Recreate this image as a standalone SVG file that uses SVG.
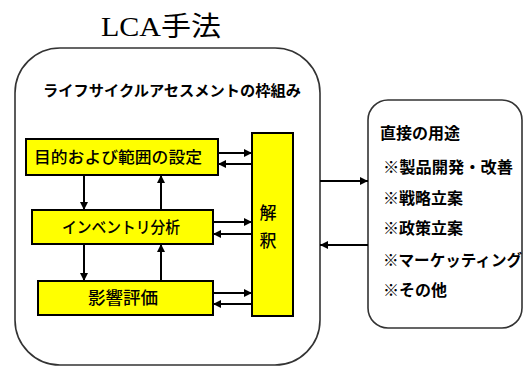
<svg xmlns="http://www.w3.org/2000/svg" width="528" height="367" viewBox="0 0 528 367">
<style>
.frame{fill:#fff;stroke:#333;stroke-width:1.6}
.box{fill:#ffff00;stroke:#000;stroke-width:2}
.ln{stroke:#000;stroke-width:2;fill:none}
.t{font-family:"Noto Sans CJK JP","Liberation Sans",sans-serif;font-weight:bold;fill:#000}
.n{font-family:"Noto Sans CJK JP","Liberation Sans",sans-serif;font-weight:500;fill:#000}
.ttl{font-family:"Liberation Serif","Noto Sans CJK JP",serif;font-size:27px;fill:#000}
</style>
<defs>
<marker id="ah" viewBox="0 0 10 10" refX="10" refY="5" markerWidth="4" markerHeight="4" orient="auto" markerUnits="strokeWidth">
<path d="M0,0 L10,5 L0,10 Z" fill="#000"/>
</marker>
</defs>
<rect width="528" height="367" fill="#fff"/>
<text class="ttl" x="161" y="36" text-anchor="middle" textLength="120" lengthAdjust="spacingAndGlyphs">LCA手法</text>
<g id="framework">
<rect class="frame" x="15" y="48" width="305" height="317" rx="45" ry="45"/>
<text class="t" x="172" y="96" font-size="15" text-anchor="middle" textLength="258" lengthAdjust="spacingAndGlyphs">ライフサイクルアセスメントの枠組み</text>
</g>
<g id="goal">
<rect class="box" x="26" y="139" width="192" height="36"/>
<text class="n" x="118" y="163" font-size="16" text-anchor="middle" textLength="168" lengthAdjust="spacingAndGlyphs">目的および範囲の設定</text>
</g>
<g id="inventory">
<rect class="box" x="32" y="210" width="181" height="34"/>
<text class="n" x="121" y="233" font-size="16" text-anchor="middle" textLength="118" lengthAdjust="spacingAndGlyphs">インベントリ分析</text>
</g>
<g id="impact">
<rect class="box" x="38" y="281" width="175" height="34"/>
<text class="n" x="123" y="304" font-size="17" text-anchor="middle" textLength="70" lengthAdjust="spacingAndGlyphs">影響評価</text>
</g>
<g id="interpretation">
<rect class="box" x="252" y="133" width="41" height="183"/>
<text class="n" x="268" y="219" font-size="17" text-anchor="middle">解</text>
<text class="n" x="268" y="247" font-size="17" text-anchor="middle">釈</text>
</g>
<g id="uses">
<rect class="frame" x="368" y="100" width="154" height="228" rx="20" ry="20"/>
<text class="t" x="380" y="139" font-size="16">直接の用途</text>
<text class="t" x="383" y="173" font-size="16" textLength="130" lengthAdjust="spacingAndGlyphs">※製品開発・改善</text>
<text class="t" x="383" y="204" font-size="16">※戦略立案</text>
<text class="t" x="383" y="234" font-size="16">※政策立案</text>
<text class="t" x="383" y="266" font-size="16" textLength="139" lengthAdjust="spacingAndGlyphs">※マーケッティング</text>
<text class="t" x="383" y="296" font-size="16">※その他</text>
</g>
<g id="connectors">
<line class="ln" x1="84" y1="175" x2="84" y2="210" marker-end="url(#ah)"/>
<line class="ln" x1="161" y1="210" x2="161" y2="175" marker-end="url(#ah)"/>
<line class="ln" x1="84" y1="244" x2="84" y2="281" marker-end="url(#ah)"/>
<line class="ln" x1="161" y1="281" x2="161" y2="244" marker-end="url(#ah)"/>
<line class="ln" x1="218" y1="153" x2="252" y2="153" marker-end="url(#ah)"/>
<line class="ln" x1="252" y1="164" x2="218" y2="164" marker-end="url(#ah)"/>
<line class="ln" x1="213" y1="222" x2="252" y2="222" marker-end="url(#ah)"/>
<line class="ln" x1="252" y1="234" x2="213" y2="234" marker-end="url(#ah)"/>
<line class="ln" x1="213" y1="293" x2="252" y2="293" marker-end="url(#ah)"/>
<line class="ln" x1="252" y1="304" x2="213" y2="304" marker-end="url(#ah)"/>
<line class="ln" x1="320" y1="181" x2="368" y2="181" marker-end="url(#ah)"/>
<line class="ln" x1="368" y1="245" x2="320" y2="245" marker-end="url(#ah)"/>
</g>
</svg>
